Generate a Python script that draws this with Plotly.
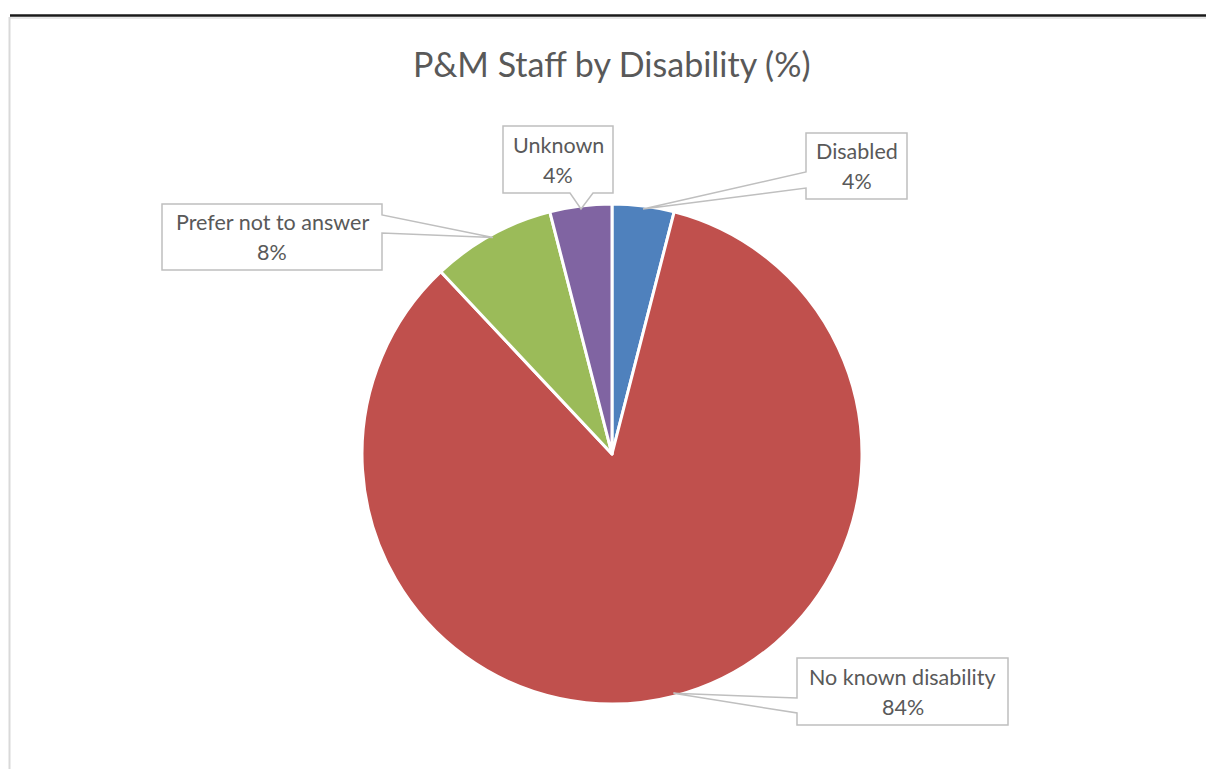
import math
import plotly.graph_objects as go

# ---- data ----
categories = ["Disabled", "No known disability", "Prefer not to answer", "Unknown"]
values = [4, 84, 8, 4]
pct_labels = ["4%", "84%", "8%", "4%"]
colors = ["#4F81BD", "#C0504D", "#9BBB59", "#8064A2"]
title = "P&M Staff by Disability (%)"

W, H = 1206, 769
cx, cy, R = 612, 454, 250

fig = go.Figure()
fig.add_trace(go.Pie(
    labels=categories, values=values, sort=False, direction="clockwise",
    rotation=0, textinfo="none", hoverinfo="label+percent",
    marker=dict(colors=colors, line=dict(color="white", width=3)),
    domain=dict(x=[(cx - R) / W, (cx + R) / W], y=[1 - (cy + R) / H, 1 - (cy - R) / H]),
    showlegend=False,
))

# invisible pixel-space axes for callouts
fig.add_trace(go.Scatter(x=[0, W], y=[0, H], mode="markers", marker=dict(opacity=0),
                         hoverinfo="skip", showlegend=False))

# callout boxes (layout): rect x0,y0,x1,y1 and pointer joint definition
boxes = {
    "Disabled": dict(rect=(806, 133, 907, 199), side="left", j=(172, 188)),
    "No known disability": dict(rect=(797, 658, 1008, 725), side="left", j=(698, 713)),
    "Prefer not to answer": dict(rect=(162, 204, 382, 270), side="right", j=(215, 233)),
    "Unknown": dict(rect=(503, 126, 613, 193), side="bottom", j=(570, 593)),
}

total = sum(values)
cum = 0
shapes = []
annotations = []
gray = "#BFBFBF"
txtc = "#595959"
FONT = "Lato, Open Sans, sans-serif"
for cat, v, p in zip(categories, values, pct_labels):
    mid = (cum + v / 2) / total * 2 * math.pi
    cum += v
    r_tip = R - 3
    tx = cx + r_tip * math.sin(mid)
    ty = cy - r_tip * math.cos(mid)
    b = boxes[cat]
    x0, y0, x1, y1 = b["rect"]
    ja, jb = b["j"]
    if b["side"] == "left":
        pts = [(x0, y0), (x1, y0), (x1, y1), (x0, y1), (x0, jb), (tx, ty), (x0, ja)]
    elif b["side"] == "right":
        pts = [(x0, y0), (x1, y0), (x1, ja), (tx, ty), (x1, jb), (x1, y1), (x0, y1)]
    else:
        pts = [(x0, y0), (x1, y0), (x1, y1), (jb, y1), (tx, ty), (ja, y1), (x0, y1)]
    path = "M " + " L ".join(f"{px:.1f},{py:.1f}" for px, py in pts) + " Z"
    shapes.append(dict(type="path", path=path, xref="x", yref="y",
                       line=dict(color=gray, width=1.5), fillcolor="white", layer="above"))
    xc = (x0 + x1) / 2
    yc = (y0 + y1) / 2
    annotations.append(dict(x=xc, y=yc - 15, xref="x", yref="y", text=cat, showarrow=False,
                            font=dict(family=FONT, size=21.5, color=txtc)))
    annotations.append(dict(x=xc, y=yc + 15, xref="x", yref="y", text=p, showarrow=False,
                            font=dict(family=FONT, size=21.5, color=txtc)))

annotations.append(dict(x=612, y=63, xref="x", yref="y", text=title, showarrow=False,
                        font=dict(family=FONT, size=34, color=txtc)))

# page border lines
shapes.append(dict(type="line", xref="x", yref="y", x0=10, x1=W, y0=15.5, y1=15.5,
                   line=dict(color="#1a1a1a", width=2.5), layer="above"))
shapes.append(dict(type="line", xref="x", yref="y", x0=10, x1=W, y0=18, y1=18,
                   line=dict(color="#E0E0E0", width=1.5), layer="above"))
shapes.append(dict(type="line", xref="x", yref="y", x0=9.5, x1=9.5, y0=17, y1=H,
                   line=dict(color="#D9D9D9", width=2), layer="above"))

fig.update_layout(
    width=W, height=H, margin=dict(l=0, r=0, t=0, b=0),
    paper_bgcolor="white", plot_bgcolor="rgba(0,0,0,0)",
    xaxis=dict(range=[0, W], visible=False, fixedrange=True),
    yaxis=dict(range=[H, 0], visible=False, fixedrange=True),
    shapes=shapes, annotations=annotations,
)
fig.write_html("out.html", config={"displayModeBar": False},
               post_script="document.body.style.margin='0';document.body.style.overflow='hidden';")
